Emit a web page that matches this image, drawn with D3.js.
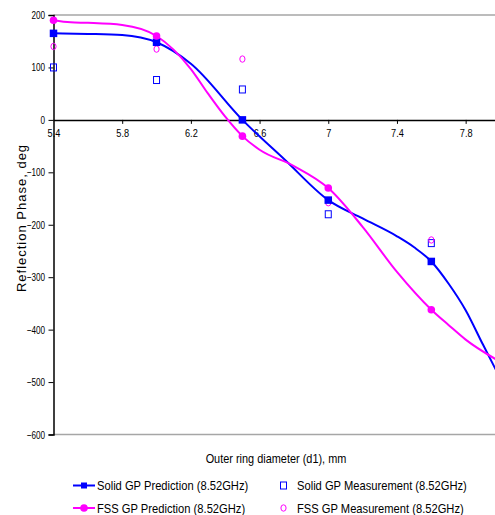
<!DOCTYPE html>
<html><head><meta charset="utf-8">
<script src="https://cdn.jsdelivr.net/npm/d3@7"></script>
<style>
html,body{margin:0;padding:0;background:#fff;}
svg{display:block;}
text{font-family:"Liberation Sans",Arial,sans-serif;fill:#000;}
</style></head>
<body>
<svg id="chart" width="495" height="515"></svg>
<script>
// ---- data ----
const markerX = [5.4, 6.0, 6.5, 7.0, 7.6];
const solidPred = [165, 148, 0, -153, -270];
const fssPred = [190, 160, -31, -130, -362];
const solidMeas = [100, 76, 58, -180, -235];
const fssMeas = [140, 135, 116, -158, -229];

const solidLineX = [5.4, 5.6, 5.8, 6.0, 6.2, 6.5, 6.75, 7.0, 7.2, 7.4, 7.5, 7.6, 7.7, 7.8, 7.9, 8.0];
const solidLineY = [165, 164, 162, 148, 107, 0, -77, -153, -188, -222, -243, -270, -312, -363, -428, -492];
const fssLineX = [5.4, 5.5, 5.6, 5.8, 6.0, 6.2, 6.3, 6.4, 6.5, 6.6, 6.8, 7.0, 7.2, 7.4, 7.6, 7.7, 7.8, 8.0];
const fssLineY = [190, 186, 185, 181, 160, 97, 50, 6, -31, -57, -88, -130, -204, -290, -362, -391, -419, -461];

const xTicks = [5.4, 5.8, 6.2, 6.6, 7.0, 7.4, 7.8];
const xTickLabels = ["5.4", "5.8", "6.2", "6.6", "7", "7.4", "7.8"];
const yTicks = [200, 100, 0, -100, -200, -300, -400, -500, -600];

const seriesNames = ["Solid GP Prediction (8.52GHz)", "FSS GP Prediction (8.52GHz)",
                     "Solid GP Measurement (8.52GHz)", "FSS GP Measurement (8.52GHz)"];
const BLUE = "#0000FF", MAG = "#FF00FF";

// ---- layout ----
const svg = d3.select("#chart");
const L = 53.5, R = 500, T = 15, B = 434.5;
const x = d3.scaleLinear().domain([5.4, 8.0]).range([L, R]);
const y = d3.scaleLinear().domain([-600, 200]).range([B, T]);

// narrow text helper (condensed look)
function narrow(sel, sx) {
  sel.each(function() {
    const t = d3.select(this);
    const tx = +t.attr("x") || 0, ty = +t.attr("y") || 0;
    t.attr("x", 0).attr("y", 0).attr("transform", `translate(${tx},${ty}) scale(${sx},1)`);
  });
}

svg.append("defs").append("clipPath").attr("id","clip")
  .append("rect").attr("x", L).attr("y", T-5).attr("width", 495-L).attr("height", B-T+10);

// plot area border (gray top/bottom)
svg.append("line").attr("x1", L).attr("x2", 495).attr("y1", T).attr("y2", T)
  .attr("stroke", "#a6a6a6").attr("stroke-width", 1.5);
svg.append("line").attr("x1", L).attr("x2", 495).attr("y1", B).attr("y2", B)
  .attr("stroke", "#a6a6a6").attr("stroke-width", 1.5);

// y axis
const yAxis = d3.axisLeft(y).tickValues(yTicks).tickSize(5).tickPadding(4).tickFormat(d3.format("d"));
const gy = svg.append("g").attr("transform", `translate(${L},0)`).call(yAxis);
gy.attr("font-family", null).attr("font-size", null);
gy.select(".domain").attr("stroke", "#000").attr("stroke-width", 1.5);
gy.selectAll(".tick line").attr("stroke", "#000");
gy.selectAll("text").attr("font-size", 11).attr("fill", "#000").attr("x", -8.5);
narrow(gy.selectAll("text"), 0.74);

// x axis at y=0
const xAxis = d3.axisBottom(x).tickValues(xTicks).tickSize(4).tickPadding(5)
  .tickFormat((d, i) => xTickLabels[i]);
const gx = svg.append("g").attr("transform", `translate(0,${y(0)})`).call(xAxis);
gx.attr("font-family", null).attr("font-size", null);
gx.select(".domain").attr("d", `M${L},0.5H495`).attr("stroke", "#000").attr("stroke-width", 1.5);
gx.selectAll(".tick line").attr("stroke", "#000");
gx.selectAll(".tick").filter(d => d === 5.4).select("line").remove();
gx.selectAll("text").attr("font-size", 11.5).attr("fill", "#000");
narrow(gx.selectAll("text"), 0.8);

// axis titles
svg.append("text").attr("transform", `translate(26,218) rotate(-90)`)
  .attr("text-anchor", "middle").attr("font-size", 13).attr("letter-spacing", "1px")
  .text("Reflection Phase, deg");
const xt = svg.append("text").attr("x", 276).attr("y", 463)
  .attr("text-anchor", "middle").attr("font-size", 13).text("Outer ring diameter (d1), mm");
narrow(xt, 0.84);

// lines
const plot = svg.append("g").attr("clip-path", "url(#clip)");
const line = d3.line().x(d => x(d[0])).y(d => y(d[1])).curve(d3.curveMonotoneX);
plot.append("path").datum(d3.zip(solidLineX, solidLineY)).attr("d", line)
  .attr("fill", "none").attr("stroke", BLUE).attr("stroke-width", 2);
plot.append("path").datum(d3.zip(fssLineX, fssLineY)).attr("d", line)
  .attr("fill", "none").attr("stroke", MAG).attr("stroke-width", 2);

// markers
function filledSquare(g, cx, cy, s, c) {
  g.append("rect").attr("x", cx - s/2).attr("y", cy - s/2).attr("width", s).attr("height", s).attr("fill", c);
}
function openSquare(g, cx, cy, c) {
  g.append("rect").attr("x", cx - 3).attr("y", cy - 3.5).attr("width", 6).attr("height", 7)
    .attr("fill", "none").attr("stroke", c).attr("stroke-width", 1);
}
function openCircle(g, cx, cy, c) {
  g.append("ellipse").attr("cx", cx).attr("cy", cy).attr("rx", 2.6).attr("ry", 3.2)
    .attr("fill", "none").attr("stroke", c).attr("stroke-width", 1);
}
function filledCircle(g, cx, cy, c) {
  g.append("circle").attr("cx", cx).attr("cy", cy).attr("r", 3.8).attr("fill", c);
}
const mk = svg.append("g");
markerX.forEach((xv, i) => {
  openSquare(mk, x(xv), y(solidMeas[i]), BLUE);
  openCircle(mk, x(xv), y(fssMeas[i]), MAG);
});
markerX.forEach((xv, i) => {
  filledSquare(mk, x(xv), y(solidPred[i]), 7.5, BLUE);
  filledCircle(mk, x(xv), y(fssPred[i]), MAG);
});

// legend
const lg = svg.append("g");
const rows = [485.5, 508];
lg.append("line").attr("x1", 73).attr("x2", 95).attr("y1", rows[0]).attr("y2", rows[0]).attr("stroke", BLUE).attr("stroke-width", 2);
filledSquare(lg, 84, rows[0], 6, BLUE);
lg.append("line").attr("x1", 73).attr("x2", 95).attr("y1", rows[1]).attr("y2", rows[1]).attr("stroke", MAG).attr("stroke-width", 2);
filledCircle(lg, 84, rows[1], MAG);
openSquare(lg, 283.5, rows[0], BLUE);
openCircle(lg, 283.5, rows[1], MAG);
const legendPos = [[97, rows[0]], [97, rows[1]], [297, rows[0]], [297, rows[1]]];
seriesNames.forEach((n, i) => {
  const t = lg.append("text").attr("x", legendPos[i][0]).attr("y", legendPos[i][1] + 4.5)
    .attr("font-size", 13).text(n);
  narrow(t, 0.86);
});
</script>
</body></html>
